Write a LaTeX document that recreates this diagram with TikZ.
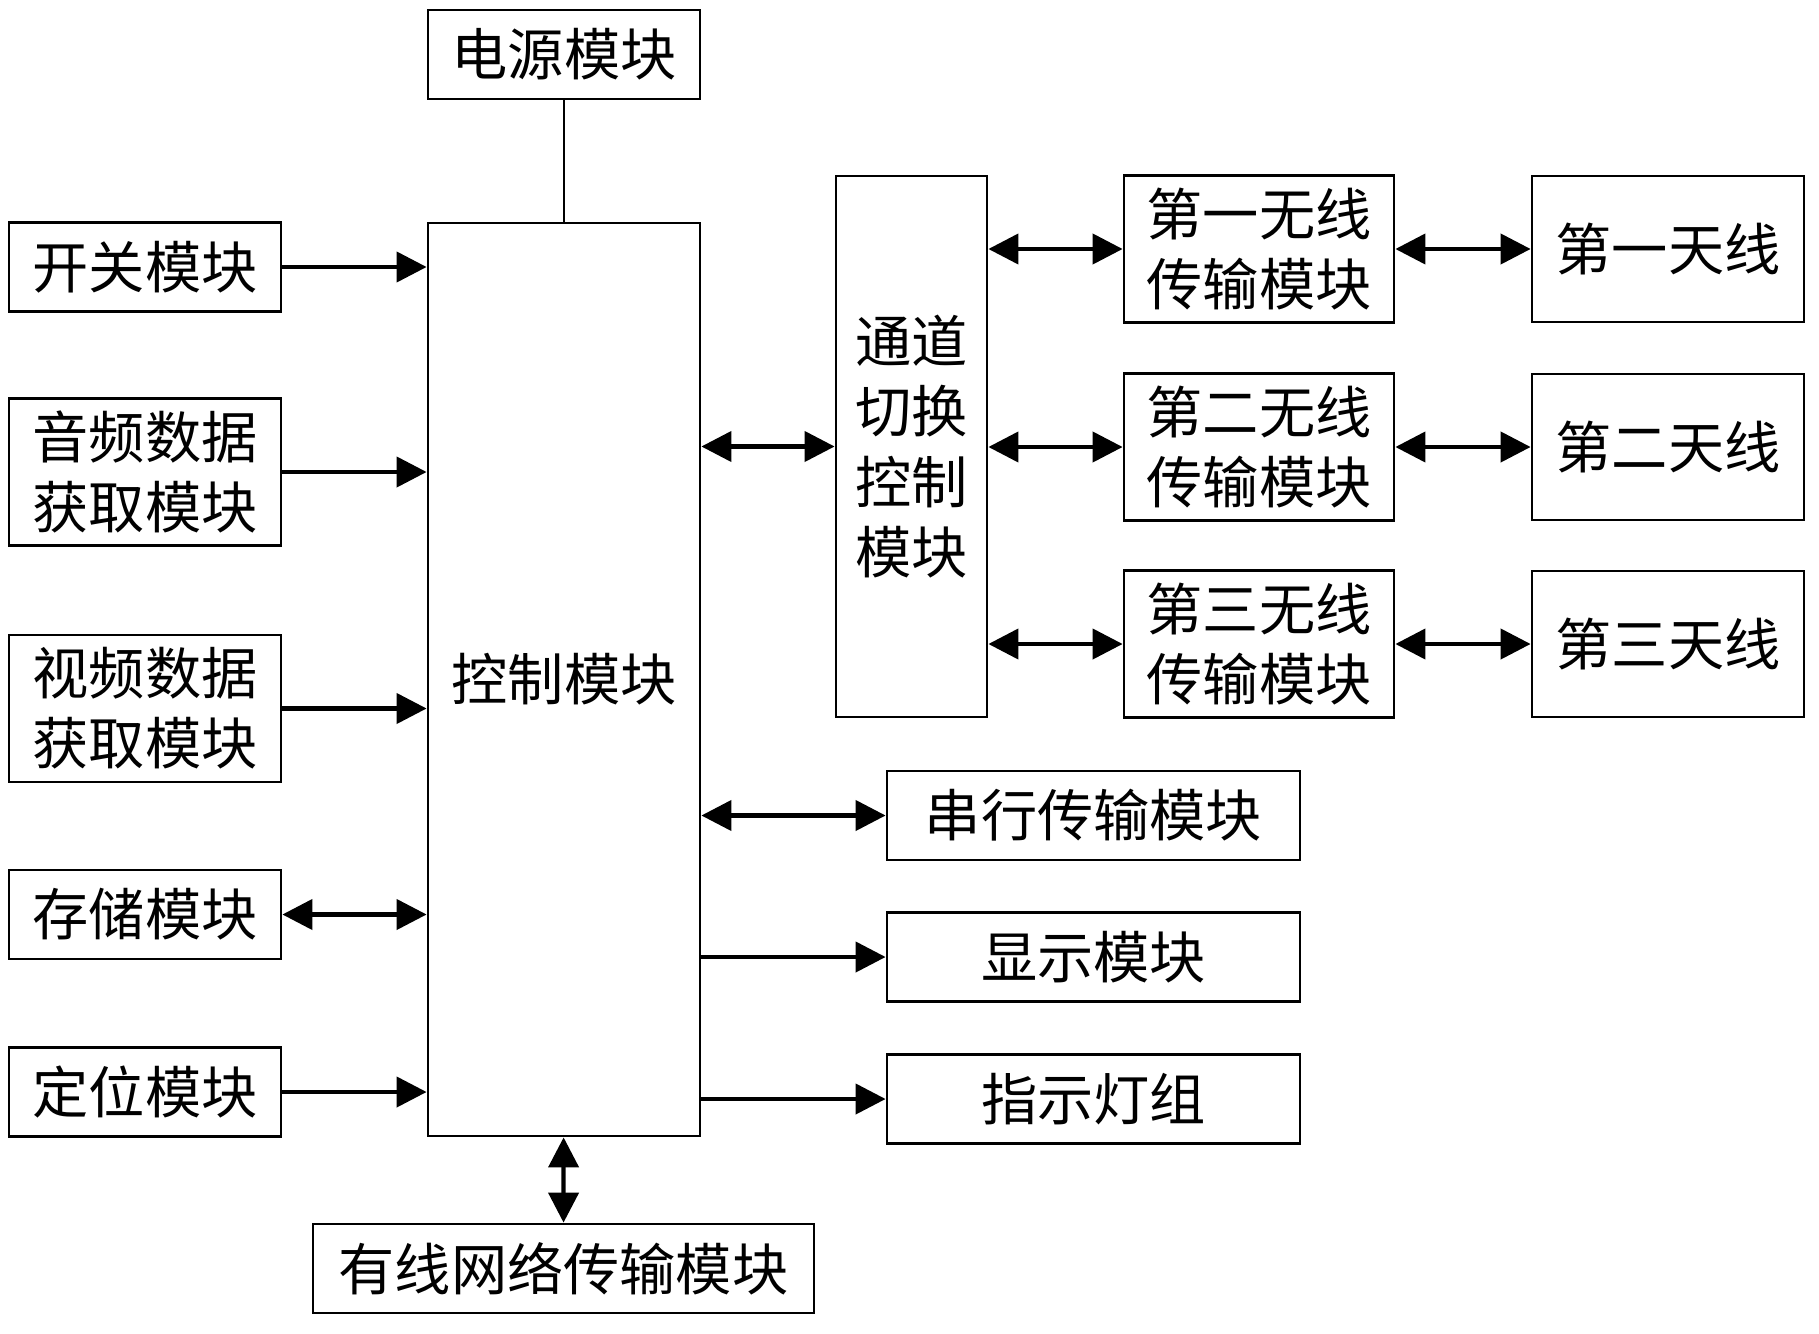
\documentclass[tikz,border=0pt]{standalone}
\usepackage{fontspec}
\setmainfont{Noto Sans CJK SC}
\usetikzlibrary{arrows.meta, positioning}

\begin{document}
\begin{tikzpicture}[
  box/.style={rectangle, draw=black, line width=0.8pt,
              minimum width=2.72cm, minimum height=0.89cm,
              inner sep=0pt, align=center,
              font=\fontsize{16}{20}\selectfont},
  tall/.style={box, minimum height=1.47cm},
  wide/.style={box, minimum width=4.13cm},
  arr/.style={-{Triangle[length=0.3cm, width=0.3cm]}, line width=1.2pt},
  darr/.style={{Triangle[length=0.3cm, width=0.3cm]}-{Triangle[length=0.3cm, width=0.3cm]}, line width=1.2pt}
]
  \useasboundingbox (0,0) rectangle (18.19,-13.34);

  %% -- centre column --
  \node[box] (power) at (5.64,-0.545) {电源模块};
  \node[box, minimum height=9.13cm] (ctrl) at (5.64,-6.795) {控制模块};
  \node[box, minimum width=5.01cm] (wired) at (5.635,-12.685) {有线网络传输模块};

  %% -- left column --
  \node[box]  (switch) at (1.45,-2.67)   {开关模块};
  \node[tall] (audio)  at (1.45,-4.72)   {音频数据\\获取模块};
  \node[tall] (video)  at (1.45,-7.085)  {视频数据\\获取模块};
  \node[box]  (store)  at (1.45,-9.145)  {存储模块};
  \node[box]  (locate) at (1.45,-10.92)  {定位模块};

  %% -- wireless branch --
  \node[box, minimum width=1.51cm, minimum height=5.41cm] (chan) at (9.115,-4.465) {通道\\切换\\控制\\模块};
  \node[tall, minimum width=2.70cm] (wlone)   at (12.59,-2.49) {第一无线\\传输模块};
  \node[tall, minimum width=2.70cm] (wltwo)   at (12.59,-4.47) {第二无线\\传输模块};
  \node[tall, minimum width=2.70cm] (wlthree) at (12.59,-6.44) {第三无线\\传输模块};
  \node[tall, minimum height=1.46cm] (antone)   at (16.68,-2.49) {第一天线};
  \node[tall, minimum height=1.46cm] (anttwo)   at (16.68,-4.47) {第二天线};
  \node[tall, minimum height=1.46cm] (antthree) at (16.68,-6.44) {第三天线};

  %% -- right outputs --
  \node[wide] (serial) at (10.935,-8.155) {串行传输模块};
  \node[wide] (disp)   at (10.935,-9.57)  {显示模块};
  \node[wide] (lamp)   at (10.935,-10.99) {指示灯组};

  %% -- connectors --
  \draw[line width=0.8pt] (power) -- (ctrl);
  \draw[darr] (ctrl) -- (wired);
  \draw[arr]  (switch.east) -- (switch.east -| ctrl.west);
  \draw[arr]  (audio.east)  -- (audio.east -| ctrl.west);
  \draw[arr]  (video.east)  -- (video.east -| ctrl.west);
  \draw[darr] (store.east)  -- (store.east -| ctrl.west);
  \draw[arr]  (locate.east) -- (locate.east -| ctrl.west);

  \draw[darr] (chan.west -| ctrl.east) -- (chan.west);
  \foreach \w/\a in {wlone/antone, wltwo/anttwo, wlthree/antthree}{
    \draw[darr] (\w.west -| chan.east) -- (\w.west);
    \draw[darr] (\w) -- (\a);
  }

  \draw[darr] (serial.west -| ctrl.east) -- (serial.west);
  \draw[arr]  (disp.west -| ctrl.east) -- (disp.west);
  \draw[arr]  (lamp.west -| ctrl.east) -- (lamp.west);
\end{tikzpicture}
\end{document}
